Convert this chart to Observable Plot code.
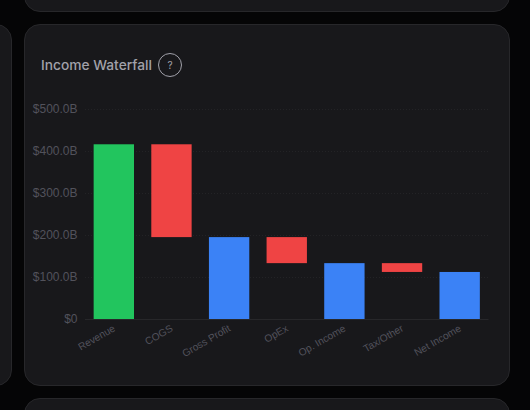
<!DOCTYPE html>
<html>
<head>
<meta charset="utf-8">
<script src="https://cdn.jsdelivr.net/npm/d3@7"></script>
<script src="https://cdn.jsdelivr.net/npm/@observablehq/plot@0.6"></script>
<style>
html,body{margin:0;padding:0;width:530px;height:410px;overflow:hidden;background:#050506;}
.card{position:absolute;box-sizing:border-box;background:#18181b;border:1px solid #27272a;border-radius:16px;}
#title{position:absolute;left:41px;top:55px;font:500 13.75px/20px Inter,sans-serif;color:#a1a1aa;}
#help{position:absolute;left:158px;top:53px;width:24px;height:24px;box-sizing:border-box;border:1px solid #a1a1aa;border-radius:50%;font:400 10px/22px Inter,sans-serif;text-align:center;color:#a1a1aa;}
#chart{position:absolute;left:25px;top:85px;}
#chart svg{display:block;background:transparent;}
</style>
</head>
<body>
<div class="card" style="left:24px;top:-60px;width:486px;height:72px"></div>
<div class="card" style="left:-60px;top:24px;width:72px;height:361.5px"></div>
<div class="card" style="left:24px;top:398px;width:486px;height:72px"></div>
<div class="card" style="left:24px;top:24px;width:486px;height:361.5px"></div>
<div id="title">Income Waterfall</div>
<div id="help">?</div>
<div id="chart"></div>
<script>
const categories = ["Revenue","COGS","Gross Profit","OpEx","Op. Income","Tax/Other","Net Income"];
const lows  = [0, 195, 0, 133, 0, 112, 0];
const highs = [416, 416, 195, 195, 133, 133, 112];
const colors = ["#22c55e","#ef4444","#3b82f6","#ef4444","#3b82f6","#ef4444","#3b82f6"];
const yTicks = [0,100,200,300,400,500];
const rows = categories.map((c,i)=>({c,lo:lows[i],hi:highs[i],col:colors[i]}));
const plot = Plot.plot({
  width:480, height:290,
  marginLeft:60, marginRight:16.5, marginTop:24, marginBottom:56,
  style:{background:"transparent"},
  x:{domain:categories,paddingInner:0.3,paddingOuter:0.15,round:false,label:null},
  y:{domain:[0,500],label:null},
  marks:[
    Plot.ruleY(yTicks.filter(d=>d>0),{stroke:"#232326",strokeDasharray:"1,2",strokeWidth:1}),
    Plot.ruleY([0],{stroke:"#27272a"}),
    Plot.barY(rows,{x:"c",y1:"lo",y2:"hi",fill:"col"}),
    Plot.axisY({ticks:yTicks,tickSize:0,tickPadding:8,label:null,tickFormat:d=>d===0?"$0":`$${d.toFixed(1)}B`,
      fill:"#52525b",fontSize:12,fontFamily:"Liberation Sans, sans-serif"}),
    Plot.axisX({tickSize:0,tickPadding:8,label:null,tickRotate:-30,
      fill:"#52525b",fontSize:10.2,fontFamily:"Liberation Sans, sans-serif"})
  ]
});
document.getElementById("chart").appendChild(plot);
</script>
</body>
</html>
